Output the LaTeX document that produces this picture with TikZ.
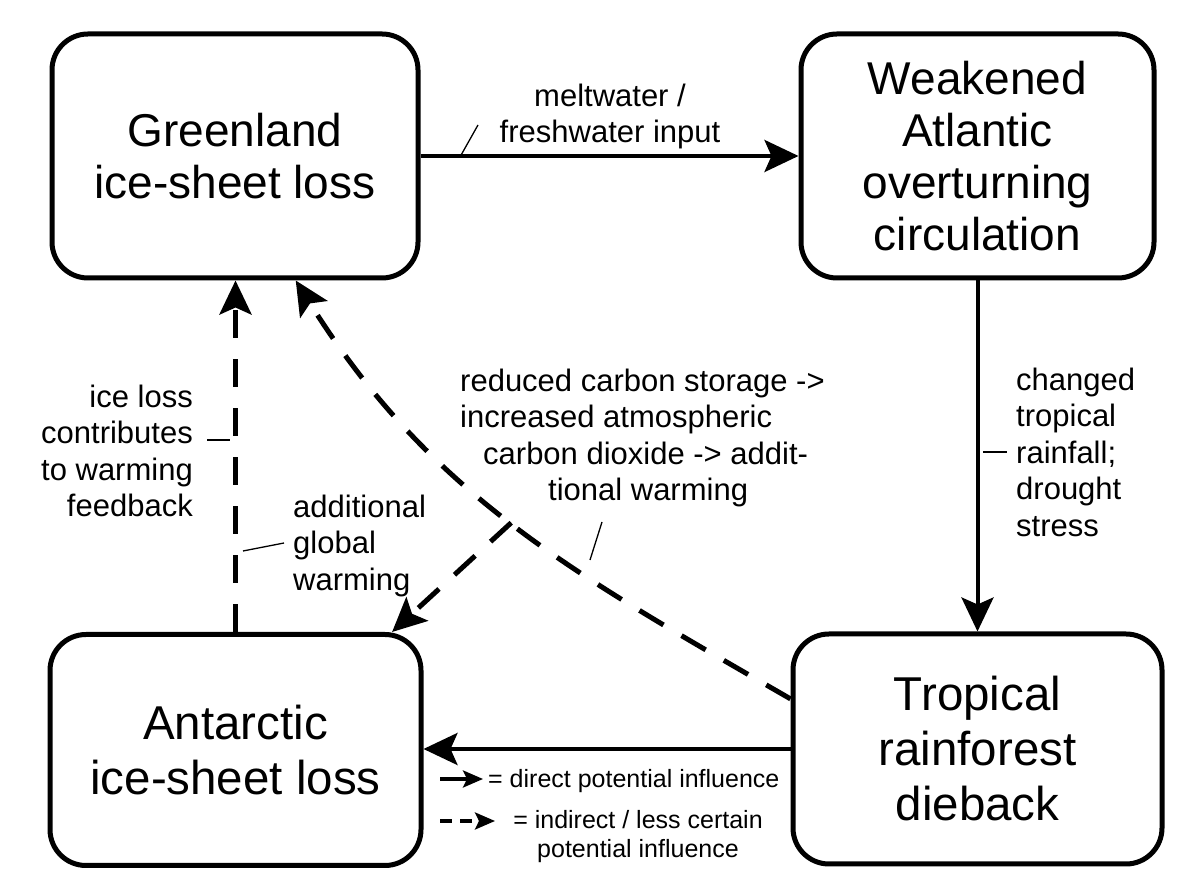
\documentclass[tikz,border=0pt]{standalone}
\usepackage{fontspec}
\setmainfont{Liberation Sans}
\usetikzlibrary{arrows.meta}

\tikzset{
  box/.style={draw, line width=5pt, rounded corners=36pt, align=center, inner sep=0pt},
  flow/.style={line width=4pt, -{Stealth[length=34pt,width=32pt,inset=7pt]}},
  dflow/.style={flow, line width=5pt, dash pattern=on 28pt off 21pt},
  lbl/.style={inner sep=0pt, font=\fontsize{31}{36.5}\selectfont},
  lgd/.style={inner sep=0pt, font=\fontsize{25}{29}\selectfont},
  pinline/.style={line width=1.3pt},
}

\begin{document}
\begin{tikzpicture}[x=1pt, y=1pt]
    \useasboundingbox (0,0) rectangle (1200,896);

    % the four tipping elements
    \node[box, minimum width=366pt, minimum height=244pt, font=\fontsize{46}{52}\selectfont]
        (green) at (235,740) {Greenland\\ice-sheet loss};
    \node[box, minimum width=353pt, minimum height=244pt, font=\fontsize{46}{52}\selectfont]
        (amoc) at (977.5,740) {Weakened\\Atlantic\\overturning\\circulation};
    \node[box, minimum width=371pt, minimum height=231pt, font=\fontsize{47.5}{55}\selectfont]
        (antarc) at (235.5,146) {Antarctic\\ice-sheet loss};
    \node[box, minimum width=369pt, minimum height=230pt, font=\fontsize{47.5}{55}\selectfont]
        (tropic) at (977.5,147) {Tropical\\rainforest\\dieback};

    % direct links
    \draw[flow] (green) -- (amoc);
    \draw[flow] (amoc) -- (tropic);
    \draw[flow] (tropic.west) -- (antarc.east |- tropic.west);

    % indirect links
    \draw[dflow] (antarc.north) -- (antarc.north |- green.south);
    \draw[dflow] (tropic.165) to[out=150, in=-58] coordinate[pos=0.5] (fork) (green.296);
    \draw[dflow] (fork) -- (antarc.37);

    % labels
    \node[lbl, align=center, anchor=north] (melt) at (610,812.6) {meltwater /\\freshwater input};
    \node[lbl, align=left, anchor=north west] (rain) at (1016,528.6)
        {changed\\tropical\\rainfall;\\drought\\stress};
    \node[lbl, align=right, anchor=north east] (feed) at (193,511.6)
        {ice loss\\contributes\\to warming\\feedback};
    \node[lbl, align=left, anchor=north west] (warm) at (293,401.6)
        {additional\\global\\warming};
    \node[lbl, align=left, anchor=north west] (carbon) at (460,527.6)
        {reduced carbon storage ->\\increased atmospheric\\\hspace*{23pt}carbon dioxide -> addit-\\\hspace*{88pt}tional warming};

    % label ticks
    \coordinate (melt-a) at (460,739);   \coordinate (melt-b) at (478,771);
    \coordinate (rain-a) at (983,444);   \coordinate (rain-b) at (1007,444);
    \coordinate (feed-a) at (207,456);   \coordinate (feed-b) at (230,456);
    \coordinate (warm-a) at (243,345);   \coordinate (warm-b) at (284,353);
    \coordinate (carbon-a) at (590,336); \coordinate (carbon-b) at (602,374);
    \draw[pinline] (melt-a) -- (melt-b);
    \draw[pinline] (rain-a) -- (rain-b);
    \draw[pinline] (feed-a) -- (feed-b);
    \draw[pinline] (warm-a) -- (warm-b);
    \draw[pinline] (carbon-a) -- (carbon-b);

    % legend
    \coordinate (key1-a) at (440,117); \coordinate (key1-b) at (483,117);
    \coordinate (key2-a) at (440,75);  \coordinate (key2-b) at (495,75);
    \draw[line width=3.5pt, -{Stealth[length=20pt,width=17pt,inset=4pt]}] (key1-a) -- (key1-b);
    \draw[line width=3.5pt, dash pattern=on 12pt off 8pt, -{Stealth[length=20pt,width=17pt,inset=4pt]}] (key2-a) -- (key2-b);
    \node[lgd, anchor=north west] (key1) at (488,127.2) {= direct potential influence};
    \node[lgd, align=center, anchor=north] (key2) at (638,86.2) {= indirect / less certain\\potential influence};
\end{tikzpicture}
\end{document}
